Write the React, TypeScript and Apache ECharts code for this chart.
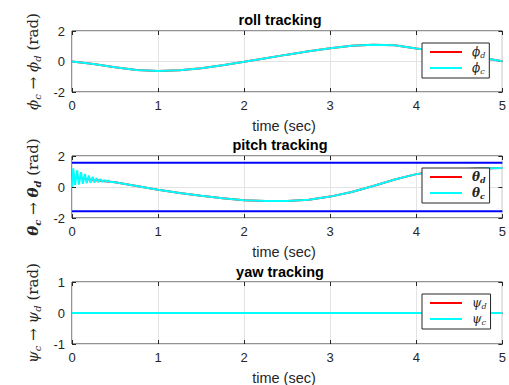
import React, { useEffect, useRef } from "react";
import * as echarts from "echarts";

// ---------- data ----------
const rollTime = [0, 0.25, 0.5, 0.75, 1, 1.25, 1.5, 1.75, 2, 2.25, 2.5, 2.75, 3, 3.25, 3.5, 3.75, 4, 4.25, 4.5, 4.75, 5];
const rollDesired = [0, -0.16, -0.37, -0.56, -0.62, -0.58, -0.44, -0.25, -0.02, 0.22, 0.45, 0.67, 0.87, 1.03, 1.1, 1.06, 0.86, 0.68, 0.48, 0.26, 0.02];
const rollCommand = [0, -0.16, -0.37, -0.56, -0.62, -0.58, -0.44, -0.25, -0.02, 0.22, 0.45, 0.67, 0.87, 1.03, 1.1, 1.06, 0.86, 0.68, 0.48, 0.26, 0.02];

const pitchTime = [0, 0.25, 0.5, 0.75, 1, 1.25, 1.5, 1.75, 2, 2.25, 2.5, 2.75, 3, 3.25, 3.5, 3.75, 4, 4.25, 4.5, 4.75, 5];
const pitchDesired = [0.65, 0.45, 0.3, 0.07, -0.18, -0.38, -0.57, -0.73, -0.85, -0.91, -0.91, -0.82, -0.62, -0.32, 0.06, 0.48, 0.83, 1.03, 1.15, 1.2, 1.22];
const pitchCommandTime = [0, 0.015, 0.035, 0.06, 0.08, 0.105, 0.125, 0.15, 0.17, 0.195, 0.215, 0.24, 0.26, 0.285, 0.305, 0.33, 0.35, 0.375, 0.395, 0.42, 0.44, 0.465, 0.5, 0.75, 1, 1.25, 1.5, 1.75, 2, 2.25, 2.5, 2.75, 3, 3.25, 3.5, 3.75, 4, 4.25, 4.5, 4.75, 5];
const pitchCommand = [0, 1.2, 0.12, 1.08, 0.16, 0.96, 0.2, 0.84, 0.24, 0.74, 0.27, 0.66, 0.29, 0.58, 0.31, 0.51, 0.32, 0.46, 0.33, 0.41, 0.32, 0.33, 0.3, 0.07, -0.18, -0.38, -0.57, -0.73, -0.85, -0.91, -0.91, -0.82, -0.62, -0.32, 0.06, 0.48, 0.83, 1.03, 1.15, 1.2, 1.22];
const pitchLimitTime = [0, 5];
const pitchUpper = [1.5708, 1.5708];
const pitchLower = [-1.5708, -1.5708];

const yawTime = [0, 5];
const yawDesired = [0, 0];
const yawCommand = [0, 0];

const xTickLabels = ["0", "1", "2", "3", "4", "5"];
const yRanges = [
  [-2, 2, 2],
  [-2, 2, 2],
  [-1, 1, 1],
];
const titles = ["roll tracking", "pitch tracking", "yaw tracking"];
const symbols = ["ϕ", "θ", "ψ"];

// ---------- layout ----------
const grids = [
  { left: 72, top: 31, width: 434, height: 61 },
  { left: 72, top: 156, width: 434, height: 62 },
  { left: 72, top: 282, width: 434, height: 62 },
];
const titleTops = [12, 137, 264];
const legendTops = [43, 168, 294];

const pair = (t: number[], v: number[]) => t.map((x, i) => [x, v[i]]);

const TXT = "#262626";
const SANS = "'Liberation Sans', Arial, Helvetica, sans-serif";
const SERIF = "'DejaVu Serif', 'Liberation Serif', serif";

export default function App() {
  const ref = useRef<HTMLDivElement>(null);
  useEffect(() => {
    if (!ref.current) return;
    const chart = echarts.init(ref.current, undefined, { renderer: "svg" });

    const tick = { show: true, inside: true, length: 4, lineStyle: { color: TXT } };
    const xAxes: any[] = [];
    const yAxes: any[] = [];
    for (let i = 0; i < 3; i++) {
      xAxes.push({
        gridIndex: i,
        type: "value",
        position: "bottom",
        min: 0,
        max: 5,
        interval: 1,
        axisLine: { show: false, onZero: false },
        axisTick: tick,
        axisLabel: {
          margin: 7,
          fontSize: 13,
          color: TXT,
          fontFamily: SANS,
          formatter: (v: number) => xTickLabels[Math.round(v)] ?? "",
        },
        splitLine: { show: true, lineStyle: { color: "#e3e3e3", width: 1 } },
      });
    }
    for (let i = 0; i < 3; i++) {
      xAxes.push({
        gridIndex: i,
        type: "value",
        position: "top",
        min: 0,
        max: 5,
        interval: 1,
        axisLine: { show: false, onZero: false },
        axisTick: tick,
        axisLabel: { show: false },
        splitLine: { show: false },
      });
    }
    for (let i = 0; i < 3; i++) {
      const [mn, mx, iv] = yRanges[i];
      const s = symbols[i];
      const bold = i === 1 ? "bold" : "normal";
      yAxes.push({
        gridIndex: i,
        type: "value",
        position: "left",
        min: mn,
        max: mx,
        interval: iv,
        axisLine: { show: false, onZero: false },
        axisTick: tick,
        axisLabel: { margin: 7, fontSize: 13, color: TXT, fontFamily: SANS },
        splitLine: { show: true, lineStyle: { color: "#e3e3e3", width: 1 } },
        name: `{m|${s}}{s|c}{a| → }{m|${s}}{s|d}{r| (rad)}`,
        nameLocation: "middle",
        nameRotate: 90,
        nameGap: 24,
        nameTextStyle: {
          color: TXT,
          rich: {
            m: { fontFamily: SERIF, fontSize: 15, fontStyle: "italic", fontWeight: bold, lineHeight: 20, verticalAlign: "middle" },
            s: { fontFamily: SERIF, fontSize: 10, fontStyle: "italic", fontWeight: bold, lineHeight: 20, verticalAlign: "bottom" },
            a: { fontFamily: SERIF, fontSize: 15, lineHeight: 20 },
            r: { fontFamily: SERIF, fontSize: 15, lineHeight: 20 },
          },
        },
      });
    }
    for (let i = 0; i < 3; i++) {
      const [mn, mx, iv] = yRanges[i];
      yAxes.push({
        gridIndex: i,
        type: "value",
        position: "right",
        min: mn,
        max: mx,
        interval: iv,
        axisLine: { show: false, onZero: false },
        axisTick: tick,
        axisLabel: { show: false },
        splitLine: { show: false },
      });
    }

    const line = (name: string, idx: number, data: number[][], color: string, z = 2) => ({
      name,
      type: "line",
      xAxisIndex: idx,
      yAxisIndex: idx,
      data,
      symbol: "none",
      lineStyle: { color, width: 2 },
      itemStyle: { color },
      z,
    });

    const names = [
      ["ϕd", "ϕc"],
      ["θd", "θc"],
      ["ψd", "ψc"],
    ];

    const series = [
      line("ϕd", 0, pair(rollTime, rollDesired), "#ff0000"),
      line("ϕc", 0, pair(rollTime, rollCommand), "#00ffff", 3),
      line("θd", 1, pair(pitchTime, pitchDesired), "#ff0000"),
      line("θc", 1, pair(pitchCommandTime, pitchCommand), "#00ffff", 3),
      line("upper", 1, pair(pitchLimitTime, pitchUpper), "#0000ff"),
      line("lower", 1, pair(pitchLimitTime, pitchLower), "#0000ff"),
      line("ψd", 2, pair(yawTime, yawDesired), "#ff0000"),
      line("ψc", 2, pair(yawTime, yawCommand), "#00ffff", 3),
    ];

    const legends = [0, 1, 2].map((i) => ({
      data: names[i],
      left: 422,
      top: legendTops[i],
      orient: "vertical",
      icon: "rect",
      itemWidth: 32,
      itemHeight: 2,
      itemGap: 3,
      padding: [3, 4, 3, 8],
      backgroundColor: "#ffffff",
      borderColor: TXT,
      borderWidth: 1,
      borderRadius: 0,
      selectedMode: false,
      z: 10,
      formatter: (n: string) => `{g|}{m|${n[0]}}{s|${n.slice(1)}}`,
      textStyle: {
        color: TXT,
        rich: {
          g: { width: 5, lineHeight: 14 },
          m: { fontFamily: SERIF, fontSize: 12, fontStyle: "italic", fontWeight: i === 1 ? "bold" : "normal", lineHeight: 14, verticalAlign: "middle" },
          s: { fontFamily: SERIF, fontSize: 8, fontStyle: "italic", fontWeight: i === 1 ? "bold" : "normal", lineHeight: 14, verticalAlign: "bottom" },
        },
      },
    }));

    const graphics: any[] = [];
    for (let i = 0; i < 3; i++) {
      graphics.push({
        type: "text",
        x: 280,
        y: titleTops[i],
        style: {
          text: titles[i],
          fontFamily: SANS,
          fontSize: 14.5,
          fontWeight: "bold",
          fill: "#000",
          align: "center",
          verticalAlign: "top",
        },
      });
      graphics.push({
        type: "text",
        x: 284,
        y: grids[i].top + grids[i].height + 26,
        style: {
          text: "time (sec)",
          fontFamily: SANS,
          fontSize: 14.5,
          fill: TXT,
          align: "center",
          verticalAlign: "top",
        },
      });
    }

    chart.setOption({
      animation: false,
      backgroundColor: "#ffffff",
      grid: grids.map((g) => ({ ...g, show: true, borderColor: TXT, borderWidth: 1, backgroundColor: "transparent", containLabel: false })),
      xAxis: xAxes,
      yAxis: yAxes,
      legend: legends,
      series,
      graphic: graphics,
    });
    return () => chart.dispose();
  }, []);
  return <div ref={ref} style={{ position: "fixed", left: 0, top: 0, width: 509, height: 385 }} />;
}
